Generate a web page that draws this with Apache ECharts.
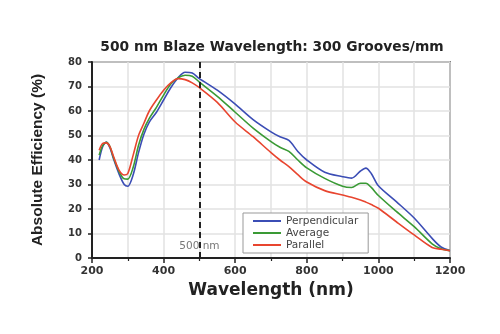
<!DOCTYPE html>
<html>
<head>
<meta charset="utf-8">
<script src="https://cdn.jsdelivr.net/npm/echarts@6/dist/echarts.min.js"></script>
<style>html,body{margin:0;padding:0;background:#fff}#c{width:500px;height:334px}</style>
</head>
<body>
<div id="c"></div>
<script>
const wavelengths = [220,230,240,250,260,275,290,300,315,330,345,360,380,400,420,440,460,480,500,550,600,650,700,725,750,775,800,850,900,925,950,965,980,1000,1050,1100,1150,1175,1200];
const perpendicular = [40,45.5,47.3,45,40.5,34.5,30,29.3,34,43,50.5,55.5,59.5,64.5,69.5,73.5,75.8,75.5,73.2,68.5,62.8,56.5,51.5,49.5,48,43.5,40,35,33.2,32.6,35.5,36.7,34.5,29.5,23,16.3,8,4.5,3];
const average = [42,46,47.2,45.5,41,35.5,32.3,32.2,37,46,52.5,57,61.5,66.5,71,73.5,74.6,74.2,71.8,66,59.5,53,47.5,45.2,43.5,40,36.8,32.5,29.3,28.8,30.5,30.5,28.8,25.5,19,12.8,5.8,3.8,3];
const parallel = [44,46.8,47,45.5,41.5,36,33.9,34.5,42,50,55,60,64.5,68.5,71.5,73.2,72.8,71.5,69.5,63.5,55.5,49.5,43,40,37.3,34,31,27.5,25.7,24.8,23.7,22.8,21.8,20.3,14.8,9.4,4.3,3.6,3];
const seriesNames = ['Perpendicular','Average','Parallel'];
const blazeWavelength = 500;
const blazeLabel = '500 nm';
const titleText = '500 nm Blaze Wavelength: 300 Grooves/mm';

const pair = arr => wavelengths.map((w,i)=>[w,arr[i]]);
const colors = ['#3b4db5','#3a9a35','#e8452f'];
const chart = echarts.init(document.getElementById('c'));
const mkLine = (name, data, color, extra) => Object.assign({
  name, type:'line', data: pair(data), smooth:0.3, symbol:'none',
  lineStyle:{color, width:1.6}, itemStyle:{color}, z:3
}, extra||{});
chart.setOption({
  animation:false,
  backgroundColor:'#fff',
  title:{text:titleText, left:267, textAlign:'center', top:35,
    textStyle:{fontFamily:'DejaVu Sans', fontWeight:'bold', fontSize:13.8, color:'#222'}},
  grid:{left:92, right:50, top:62, bottom:76, show:true, borderColor:'#222', borderWidth:1.5, backgroundColor:'transparent'},
  legend:{orient:'vertical', left:243, top:213, data:seriesNames, icon:'rect', itemWidth:28, itemHeight:2, itemGap:0,
    padding:[2,10,2,10], borderColor:'#999', borderWidth:1, backgroundColor:'#fff',
    textStyle:{fontFamily:'DejaVu Sans', fontSize:10.5, color:'#444', lineHeight:12}},
  xAxis:{type:'value', min:200, max:1200, interval:200,
    name:'Wavelength (nm)', nameLocation:'middle', nameGap:15,
    nameTextStyle:{fontFamily:'DejaVu Sans', fontWeight:'bold', fontSize:17, color:'#222'},
    axisLine:{lineStyle:{color:'#222', width:2}},
    axisTick:{show:true, inside:false, length:5, lineStyle:{color:'#222', width:1.5}},
    minorTick:{show:true, splitNumber:2, length:3, lineStyle:{color:'#222', width:1.2}},
    splitLine:{show:true, lineStyle:{color:'#e2e2e2', width:1.5}},
    minorSplitLine:{show:true, lineStyle:{color:'#e2e2e2', width:1.5}},
    axisLabel:{fontFamily:'DejaVu Sans', fontWeight:'bold', fontSize:11, color:'#333', margin:8, formatter:v=>String(v)}},
  yAxis:{type:'value', min:0, max:80, interval:10,
    name:'Absolute Efficiency (%)', nameLocation:'middle', nameGap:46, nameRotate:90,
    nameTextStyle:{fontFamily:'Liberation Sans', fontWeight:'bold', fontSize:15.5, color:'#222'},
    axisLine:{show:true, lineStyle:{color:'#222', width:2}},
    axisTick:{show:true, inside:false, length:4, lineStyle:{color:'#222', width:1.5}},
    splitLine:{show:true, lineStyle:{color:'#e2e2e2', width:1.5}},
    axisLabel:{fontFamily:'DejaVu Sans', fontWeight:'bold', fontSize:10, color:'#333', margin:10}},
  series:[
    mkLine(seriesNames[0], perpendicular, colors[0], {
      markLine:{silent:true, symbol:'none', label:{show:false},
        lineStyle:{color:'#222', width:2, type:[6,4]}, data:[{xAxis:blazeWavelength}]}}),
    mkLine(seriesNames[1], average, colors[1]),
    mkLine(seriesNames[2], parallel, colors[2]),
    {type:'scatter', data:[[blazeWavelength,4.9]], symbolSize:0, silent:true, z:5,
      label:{show:true, position:'inside', formatter:blazeLabel,
        fontFamily:'DejaVu Sans', fontSize:10.5, color:'#555'}}
  ]
});
</script>
</body>
</html>
